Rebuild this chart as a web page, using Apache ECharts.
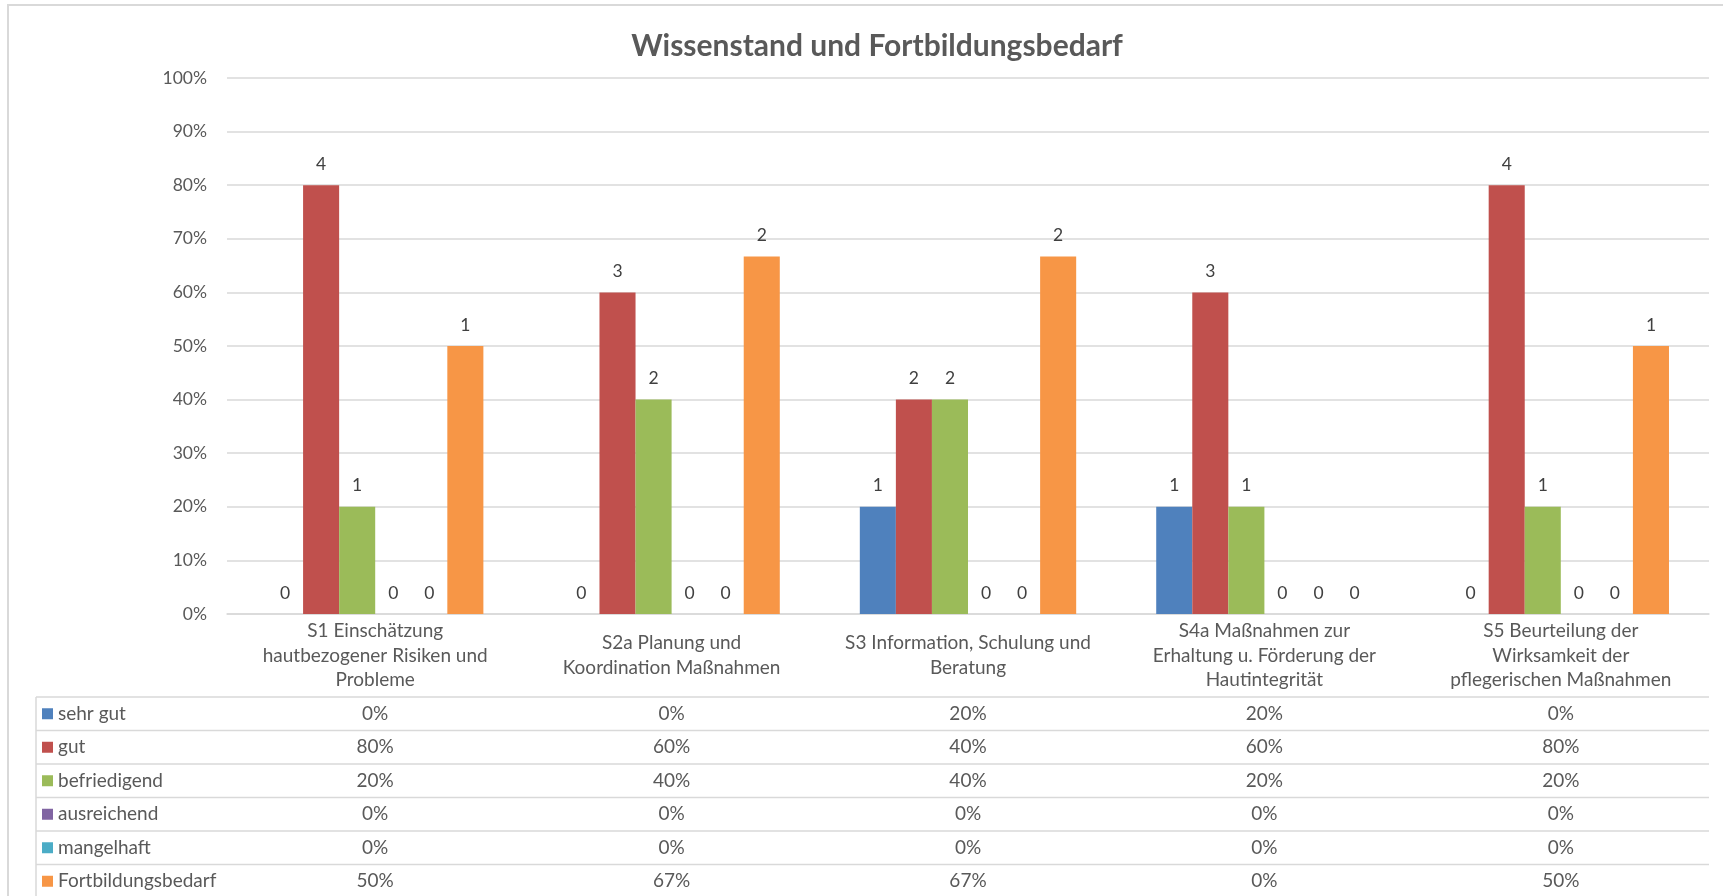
<!DOCTYPE html>
<html style="height: 100%">
<head>
    <meta charset="UTF-8">
    <title>Wissenstand und Fortbildungsbedarf</title>
    <script src="https://cdn.jsdelivr.net/npm/echarts/dist/echarts.min.js"></script>
</head>
<body style="height: 100%; margin: 0; background: #fff">
    <div id="main" style="width: 1723px; height: 896px"></div>
    <script type="text/javascript">
        // Kategorien (Kopfzeile der Datentabelle, mit Umbruechen wie im Original)
        var categories = [
            'S1 Einschätzung\nhautbezogener Risiken und\nProbleme',
            'S2a Planung und\nKoordination Maßnahmen',
            'S3 Information, Schulung und\nBeratung',
            'S4a Maßnahmen zur\nErhaltung u. Förderung der\nHautintegrität',
            'S5 Beurteilung der\nWirksamkeit der\npflegerischen Maßnahmen'
        ];
        var seriesNames = ['sehr gut', 'gut', 'befriedigend', 'ausreichend', 'mangelhaft', 'Fortbildungsbedarf'];

        // Anteile in %
        var sehrGut = [0, 0, 20, 20, 0];
        var gut = [80, 60, 40, 60, 80];
        var befriedigend = [20, 40, 40, 20, 20];
        var ausreichend = [0, 0, 0, 0, 0];
        var mangelhaft = [0, 0, 0, 0, 0];
        var fortbildung = [50, 66.7, 66.7, 0, 50];

        // Anzahl (Beschriftung ueber den Balken)
        var nSehrGut = [0, 0, 1, 1, 0];
        var nGut = [4, 3, 2, 3, 4];
        var nBefriedigend = [1, 2, 2, 1, 1];
        var nAusreichend = [0, 0, 0, 0, 0];
        var nMangelhaft = [0, 0, 0, 0, 0];
        var nFortbildung = [1, 2, 2, 0, 1];

        var yTicks = { min: 0, max: 100, interval: 10 };

        var pct = [sehrGut, gut, befriedigend, ausreichend, mangelhaft, fortbildung];
        var counts = [nSehrGut, nGut, nBefriedigend, nAusreichend, nMangelhaft, nFortbildung];
        var colors = ['#4F81BD', '#C0504D', '#9BBB59', '#8064A2', '#4BACC6', '#F79646'];

        // Layout
        var W = 1723, H = 896;
        var GRID_LEFT = 227, GRID_RIGHT = 14, GRID_TOP = 78, AXIS_Y = 614;
        var TABLE_TOP = 697, ROW_H = 33.5, TABLE_LEFT = 36;
        var FONT = 'Lato, "Open Sans", sans-serif';
        var LINE = '#D9D9D9';
        var TABLE_FONT = 19;

        var myChart = echarts.init(document.getElementById('main'));

        var xAxes = [{
            type: 'category',
            data: categories,
            gridIndex: 0,
            position: 'bottom',
            axisLine: { lineStyle: { color: LINE, width: 1.5 } },
            axisTick: { length: H - AXIS_Y, lineStyle: { color: LINE, width: 1.5 } },
            axisLabel: {
                interval: 0, margin: (TABLE_TOP - AXIS_Y) / 2, verticalAlign: 'middle',
                lineHeight: 24.5, fontSize: TABLE_FONT, color: '#595959', fontFamily: FONT
            }
        }];
        seriesNames.forEach(function (name, i) {
            xAxes.push({
                type: 'category',
                data: categories,
                gridIndex: 0,
                position: 'bottom',
                offset: TABLE_TOP + ROW_H * (i + 0.5) - AXIS_Y,
                axisLine: { show: false },
                axisTick: { show: false },
                axisLabel: {
                    interval: 0, margin: 0, verticalAlign: 'middle',
                    fontSize: TABLE_FONT, color: '#595959', fontFamily: FONT,
                    formatter: function (v, idx) { return Math.round(pct[i][idx]) + '%'; }
                }
            });
        });

        // Tabellenlinien und Rahmen
        var graphics = [{
            type: 'rect', silent: true,
            shape: { x: 8, y: 5, width: W, height: H },
            style: { fill: null, stroke: LINE, lineWidth: 2 }
        }, {
            type: 'line', silent: true,
            shape: { x1: TABLE_LEFT, y1: TABLE_TOP, x2: TABLE_LEFT, y2: H },
            style: { stroke: LINE, lineWidth: 1.5 }
        }];
        for (var r = 0; r <= seriesNames.length; r++) {
            graphics.push({
                type: 'line', silent: true,
                shape: { x1: TABLE_LEFT, y1: TABLE_TOP + r * ROW_H, x2: W - GRID_RIGHT, y2: TABLE_TOP + r * ROW_H },
                style: { stroke: LINE, lineWidth: 1.5 }
            });
        }

        var option = {
            backgroundColor: '#fff',
            textStyle: { fontFamily: FONT },
            title: {
                text: 'Wissenstand und Fortbildungsbedarf',
                left: 872, top: 26, textAlign: 'center',
                textStyle: { fontSize: 30, fontWeight: 'bold', color: '#595959', fontFamily: FONT }
            },
            legend: {
                data: seriesNames,
                orient: 'vertical',
                left: 42, top: TABLE_TOP,
                height: 260,
                padding: 0, itemGap: 0,
                itemWidth: 11, itemHeight: 11,
                icon: 'rect',
                selectedMode: false,
                textStyle: { fontSize: TABLE_FONT, color: '#595959', lineHeight: ROW_H, fontFamily: FONT }
            },
            grid: { left: GRID_LEFT, right: GRID_RIGHT, top: GRID_TOP, bottom: H - AXIS_Y, containLabel: false },
            xAxis: xAxes,
            yAxis: {
                type: 'value',
                min: yTicks.min, max: yTicks.max, interval: yTicks.interval,
                axisLine: { show: false },
                axisTick: { show: false },
                splitLine: { lineStyle: { color: LINE, width: 1.5 } },
                axisLabel: { formatter: '{value}%', fontSize: 17.5, color: '#595959', margin: 20, fontFamily: FONT }
            },
            graphic: graphics,
            series: seriesNames.map(function (name, i) {
                return {
                    name: name,
                    type: 'bar',
                    xAxisIndex: 0,
                    data: pct[i],
                    barGap: '0%',
                    barCategoryGap: '27%',
                    itemStyle: { color: colors[i] },
                    label: {
                        show: true, position: 'top', distance: 12,
                        fontSize: 17.5, color: '#404040', fontFamily: FONT,
                        formatter: function (p) { return counts[i][p.dataIndex]; }
                    }
                };
            }),
            color: colors,
            animation: false
        };

        myChart.setOption(option);
    </script>
</body>
</html>
